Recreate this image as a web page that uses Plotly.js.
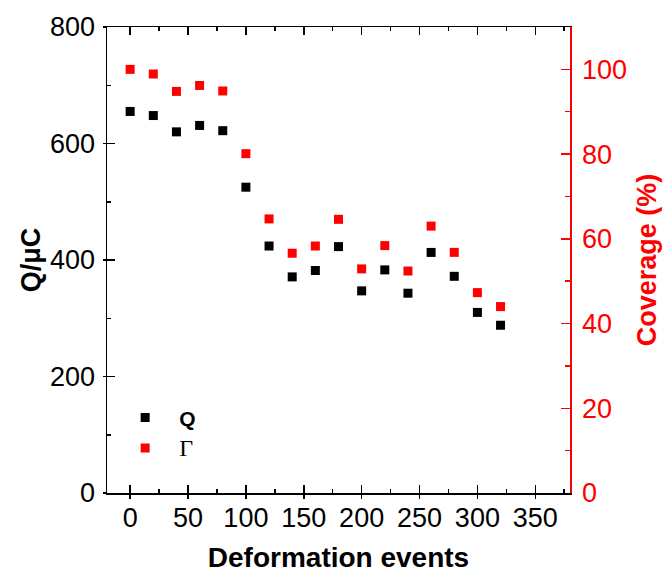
<!DOCTYPE html>
<html>
<head>
<meta charset="utf-8">
<script src="https://cdn.plot.ly/plotly-3.0.1.min.js"></script>
<style>html,body{margin:0;padding:0;background:#fff;}#chart{width:665px;height:575px;}</style>
</head>
<body>
<div id="chart"></div>
<script>
// Data
const events = [0, 20, 40, 60, 80, 100, 120, 140, 160, 180, 200, 220, 240, 260, 280, 300, 320];
const chargeQ = [655, 648, 620, 631, 622, 525, 424, 371, 382, 423, 347, 383, 343, 413, 372, 310, 288];
const coverage = [100.0, 98.9, 94.8, 96.2, 94.9, 80.1, 64.7, 56.6, 58.3, 64.6, 52.9, 58.4, 52.4, 63.0, 56.8, 47.3, 44.0];
const xTicks = [0, 50, 100, 150, 200, 250, 300, 350];
const yTicks = [0, 200, 400, 600, 800];
const y2Ticks = [0, 20, 40, 60, 80, 100];

const SANS = 'Liberation Sans, Arial, sans-serif';

const traces = [
  {
    x: events, y: chargeQ, name: '<b>Q</b>', type: 'scatter', mode: 'markers',
    marker: {symbol: 'square', size: 9, color: '#000000'},
    xaxis: 'x', yaxis: 'y'
  },
  {
    x: events, y: coverage, name: "<span style='font-family:Liberation Serif, Times New Roman, serif;font-weight:normal;font-size:24px'>Γ</span>",
    type: 'scatter', mode: 'markers',
    marker: {symbol: 'square', size: 9, color: '#ff0000'},
    xaxis: 'x', yaxis: 'y2'
  },
  // empty helper traces so the frame / tick overlay axes get drawn
  {x: [], y: [], type: 'scatter', mode: 'markers', xaxis: 'x2', yaxis: 'y', showlegend: false, hoverinfo: 'skip'},
  {x: [], y: [], type: 'scatter', mode: 'markers', xaxis: 'x3', yaxis: 'y', showlegend: false, hoverinfo: 'skip'},
  {x: [], y: [], type: 'scatter', mode: 'markers', xaxis: 'x', yaxis: 'y3', showlegend: false, hoverinfo: 'skip'}
];

const layout = {
  width: 665, height: 575,
  margin: {l: 107, r: 95, t: 27, b: 82},
  paper_bgcolor: '#ffffff', plot_bgcolor: '#ffffff',
  font: {family: SANS, color: '#000000'},
  showlegend: true,
  legend: {
    x: 0.009, y: 0.205, xanchor: 'left', yanchor: 'top',
    bgcolor: 'rgba(0,0,0,0)', borderwidth: 0,
    itemwidth: 58,
    font: {family: SANS, size: 21, color: '#000000'},
    tracegroupgap: 0
  },
  xaxis: {
    range: [-20, 380], tickvals: xTicks, ticktext: xTicks.map(String),
    showgrid: false, zeroline: false,
    showline: true, linecolor: '#000000', linewidth: 1.5,
    ticks: 'inside', ticklen: 8, tickwidth: 1.5, tickcolor: '#000000',
    minor: {ticks: 'inside', ticklen: 4, tickwidth: 1.5, dtick: 25, tick0: 0, tickcolor: '#000000', showgrid: false},
    tickfont: {family: SANS, size: 27, color: '#000000'},
    ticklabelstandoff: 0,
    title: {text: '<b>Deformation events</b>', font: {family: SANS, size: 28, color: '#000000'}, standoff: 15}
  },
  xaxis2: {
    overlaying: 'x', side: 'top', anchor: 'y', range: [-20, 380],
    tickvals: xTicks, showticklabels: false, showgrid: false, zeroline: false,
    showline: true, linecolor: '#000000', linewidth: 1.5,
    ticks: 'inside', ticklen: 8, tickwidth: 1.5, tickcolor: '#000000',
    minor: {ticks: 'inside', ticklen: 4, tickwidth: 1.5, dtick: 25, tick0: 0, tickcolor: '#000000', showgrid: false}
  },
  xaxis3: {
    overlaying: 'x', side: 'bottom', anchor: 'y', range: [-20, 380],
    tickvals: xTicks, showticklabels: false, showgrid: false, zeroline: false, showline: false,
    ticks: 'outside', ticklen: 5, tickwidth: 1.5, tickcolor: '#000000'
  },
  yaxis: {
    range: [0, 800], tickvals: yTicks, ticktext: yTicks.map(String),
    showgrid: false, zeroline: false,
    showline: true, linecolor: '#000000', linewidth: 1.5,
    ticks: 'inside', ticklen: 8, tickwidth: 1.5, tickcolor: '#000000',
    minor: {ticks: 'inside', ticklen: 4, tickwidth: 1.5, dtick: 100, tick0: 0, tickcolor: '#000000', showgrid: false},
    tickfont: {family: SANS, size: 27, color: '#000000'},
    ticklabelstandoff: 5,
    title: {text: '<b>Q/μC</b>', font: {family: SANS, size: 27, color: '#000000'}, standoff: 1}
  },
  yaxis3: {
    overlaying: 'y', side: 'left', anchor: 'x', range: [0, 800],
    tickvals: yTicks, showticklabels: false, showgrid: false, zeroline: false, showline: false,
    ticks: 'outside', ticklen: 3, tickwidth: 1.5, tickcolor: '#000000'
  },
  yaxis2: {
    overlaying: 'y', side: 'right', anchor: 'x', range: [0, 110],
    tickvals: y2Ticks, ticktext: y2Ticks.map(String),
    showgrid: false, zeroline: false,
    showline: true, linecolor: '#ff0000', linewidth: 1.5,
    ticks: 'inside', ticklen: 9, tickwidth: 1.5, tickcolor: '#ff0000',
    minor: {ticks: 'inside', ticklen: 5, tickwidth: 1.5, dtick: 10, tick0: 0, tickcolor: '#ff0000', showgrid: false},
    tickfont: {family: SANS, size: 27, color: '#ff0000'},
    ticklabelstandoff: 5,
    title: {text: '<b>Coverage (%)</b>', font: {family: SANS, size: 27, color: '#ff0000'}, standoff: 11}
  }
};

Plotly.newPlot('chart', traces, layout, {displayModeBar: false, staticPlot: true});
</script>
</body>
</html>
